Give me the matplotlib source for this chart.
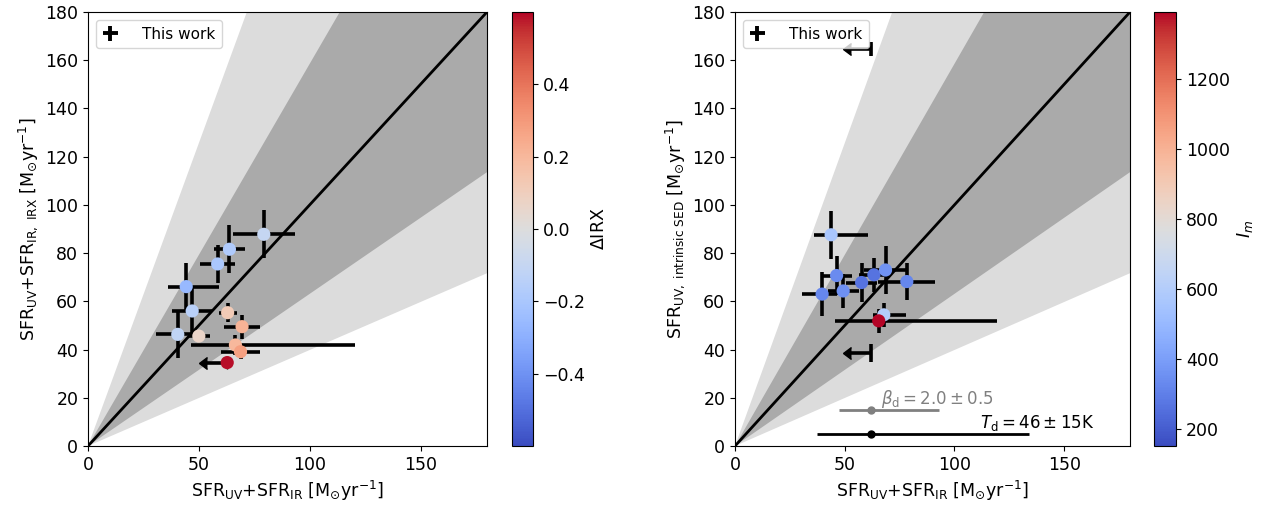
import matplotlib
matplotlib.use('Agg')
import matplotlib.pyplot as plt
import numpy as np
from matplotlib.colors import Normalize

# ---------------- data: left panel ----------------
l_x      = [79.3, 63.8, 58.5, 44.3, 47.0, 40.5, 50.0, 63.0, 69.5, 66.5, 68.8]
l_y      = [87.8, 81.6, 75.5, 66.1, 56.0, 46.3, 45.6, 55.3, 49.5, 41.9, 39.1]
l_xerr_lo = [14.0, 7.0, 8.0, 8.0, 9.0, 10.0, 5.0, 4.0, 8.0, 20.0, 9.0]
l_xerr_hi = [14.0, 7.0, 8.0, 15.0, 9.0, 10.0, 5.0, 4.0, 8.0, 54.0, 9.0]
l_yerr   = [10.0, 10.0, 8.0, 10.0, 10.0, 10.0, 2.0, 4.0, 5.0, 4.0, 3.0]
l_dirx   = [-0.10, -0.18, -0.20, -0.26, -0.15, -0.12, 0.07, 0.12, 0.22, 0.20, 0.28]
# upper limit (left)
l_lim_x = [62.8]
l_lim_y = [34.6]
l_lim_xerr = [8.9]
l_lim_dirx = [0.59]

# ---------------- data: right panel ----------------
r_x      = [43.8, 46.3, 39.7, 49.3, 57.7, 63.3, 68.6, 78.3, 67.8, 65.5]
r_y      = [87.6, 70.7, 63.0, 64.3, 67.8, 71.0, 73.0, 68.2, 54.4, 51.9]
r_xerr_lo = [8.0, 7.0, 9.0, 7.0, 7.0, 7.0, 10.0, 13.0, 5.0, 20.0]
r_xerr_hi = [17.0, 7.0, 7.0, 7.0, 7.0, 7.0, 10.0, 13.0, 10.0, 54.0]
r_yerr   = [10.0, 8.0, 9.0, 7.0, 8.0, 7.0, 10.0, 7.5, 5.0, 5.0]
r_im     = [560, 336, 324, 350, 262, 265, 360, 320, 600, 1390]
# upper limits (right)
r_lim_x = [61.8, 61.8]
r_lim_y = [164.6, 38.5]
r_lim_xerr = [9.0, 9.0]
r_lim_yerr = [3.0, 3.8]

# typical uncertainty bars
beta_x, beta_y, beta_lo, beta_hi = 62.2, 15.0, 14.7, 30.6
td_x, td_y, td_lo, td_hi = 62.2, 5.0, 25.0, 72.0

ticks_x = [0, 50, 100, 150]
ticks_y = [0, 20, 40, 60, 80, 100, 120, 140, 160, 180]
cb_l_ticks = [-0.4, -0.2, 0.0, 0.2, 0.4]
cb_r_ticks = [200, 400, 600, 800, 1000, 1200]

W, H = 1278, 513
fig = plt.figure(figsize=(W / 100, H / 100), dpi=100)

def px_axes(x0, x1, y0, y1):
    return fig.add_axes([x0 / W, 1 - y1 / H, (x1 - x0) / W, (y1 - y0) / H])

axL = px_axes(88, 487, 12, 446)
caxL = px_axes(512, 533, 12, 446)
axR = px_axes(735, 1130, 12, 446)
caxR = px_axes(1154, 1176, 12, 446)

xline = np.array([0.0, 180.0])
elw = 2.6
ms_s = 90
FS = 12.5

def base(ax):
    ax.fill_between(xline, xline * 10**-0.4, xline * 10**0.4, color='#dcdcdc', lw=0, zorder=0)
    ax.fill_between(xline, xline * 10**-0.2, xline * 10**0.2, color='#aaaaaa', lw=0, zorder=0.5)
    ax.plot(xline, xline, color='k', lw=2, zorder=1)
    ax.set_xlim(0, 180)
    ax.set_ylim(0, 180)
    ax.set_xticks(ticks_x)
    ax.set_yticks(ticks_y)
    ax.tick_params(labelsize=FS)
    ax.set_xlabel(r'SFR$_{\rm UV}$+SFR$_{\rm IR}$ [M$_{\odot}$yr$^{-1}$]', fontsize=FS)
    ax.errorbar([], [], xerr=[], yerr=[], fmt='none', ecolor='k', elinewidth=2.8, label='This work')
    ax.legend(loc='upper left', fontsize=11, handlelength=1.0, handletextpad=1.6,
              borderpad=0.45, borderaxespad=0.5)

def limits(ax, x, y, xerr):
    ax.errorbar(x, y, xerr=xerr, xuplims=True, fmt='none', color='k',
                ecolor='k', elinewidth=elw, capsize=4, zorder=2)

# ---- left ----
base(axL)
normL = Normalize(vmin=-0.6, vmax=0.6)
axL.errorbar(l_x, l_y, xerr=[l_xerr_lo, l_xerr_hi], yerr=l_yerr, fmt='none',
             ecolor='k', elinewidth=elw, capsize=0, zorder=2)
limits(axL, l_lim_x, l_lim_y, l_lim_xerr)
scL = axL.scatter(l_x + l_lim_x, l_y + l_lim_y, c=l_dirx + l_lim_dirx, cmap='coolwarm',
                  norm=normL, s=ms_s, zorder=3, edgecolors='none')
axL.set_ylabel(r'SFR$_{\rm UV}$+SFR$_{\rm IR,\ IRX}$ [M$_{\odot}$yr$^{-1}$]', fontsize=FS)
cbL = fig.colorbar(scL, cax=caxL, ticks=cb_l_ticks)
cbL.ax.tick_params(labelsize=FS)
cbL.set_label(r'$\Delta$IRX', fontsize=FS)

# ---- right ----
base(axR)
normR = Normalize(vmin=150, vmax=1390)
axR.errorbar(r_x, r_y, xerr=[r_xerr_lo, r_xerr_hi], yerr=r_yerr, fmt='none',
             ecolor='k', elinewidth=elw, capsize=0, zorder=2)
limits(axR, r_lim_x, r_lim_y, r_lim_xerr)
axR.errorbar(r_lim_x, r_lim_y, yerr=r_lim_yerr, fmt='none', ecolor='k',
             elinewidth=elw, capsize=0, zorder=2)
scR = axR.scatter(r_x, r_y, c=r_im, cmap='coolwarm', norm=normR, s=ms_s, zorder=3,
                  edgecolors='none')
axR.errorbar([beta_x], [beta_y], xerr=[[beta_lo], [beta_hi]], fmt='o', color='gray',
             ms=5, elinewidth=2, zorder=3)
axR.errorbar([td_x], [td_y], xerr=[[td_lo], [td_hi]], fmt='o', color='k',
             ms=5, elinewidth=2, zorder=3)
axR.text(92, 19.5, r'$\beta_{\rm d} = 2.0 \pm 0.5$', color='gray', fontsize=12,
         ha='center', va='center')
axR.text(137.5, 9.5, r'$T_{\rm d} = 46 \pm 15$K', color='k', fontsize=12,
         ha='center', va='center')
axR.set_ylabel(r'SFR$_{\rm UV,\ intrinsic\ SED}$ [M$_{\odot}$yr$^{-1}$]', fontsize=FS)
cbR = fig.colorbar(scR, cax=caxR, ticks=cb_r_ticks)
cbR.ax.tick_params(labelsize=FS)
cbR.set_label(r'$I_m$', fontsize=FS)

fig.savefig('out.png', dpi=100)
